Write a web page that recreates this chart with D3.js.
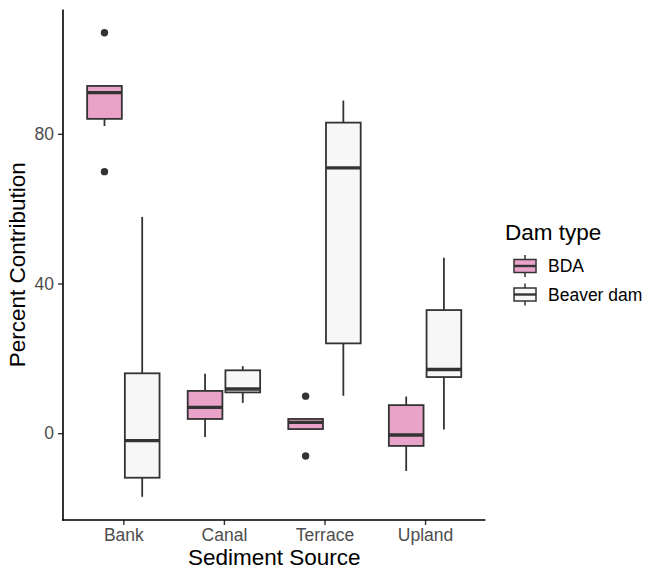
<!DOCTYPE html>
<html>
<head>
<meta charset="utf-8">
<script src="https://cdn.jsdelivr.net/npm/d3@7/dist/d3.min.js"></script>
<style>
  body { margin: 0; background: #fff; }
  svg { display: block; font-family: "Liberation Sans", Arial, sans-serif; }
</style>
</head>
<body>
<svg id="chart" width="648" height="570"></svg>
<script>
// ---- Data ----
const categories = ["Bank", "Canal", "Terrace", "Upland"];
const damTypes = ["BDA", "Beaver dam"];
const fills = ["#E9A3C9", "#F7F7F7"];
const yTicks = [0, 40, 80];

// [lower whisker, Q1, median, Q3, upper whisker] per category
const bdaStats = [
  [82.1, 84.0, 91.0, 92.8, 93.0],
  [-1.0, 3.8, 6.9, 11.3, 15.9],
  [1.0, 1.1, 2.9, 3.8, 4.0],
  [-10.1, -3.4, -0.5, 7.5, 9.8]
];
const beaverStats = [
  [-17.0, -11.9, -2.0, 16.0, 57.8],
  [8.1, 10.9, 11.8, 16.8, 17.9],
  [10.0, 24.0, 70.9, 83.0, 88.9],
  [1.0, 15.0, 17.0, 32.9, 46.9]
];
const bdaOutliers = [[107.0, 69.9], [], [9.9, -6.1], []];
const beaverOutliers = [[], [], [], []];

// ---- Layout ----
const svg = d3.select("#chart");
const panel = { left: 63, right: 485.4, top: 9.6, bottom: 520 };
const ink = "#333333";
const lw = 1.8;

const x = d3.scalePoint().domain(categories)
  .range([panel.left, panel.right]).padding(0.6);
const step = x.step();
const dodge = d3.scaleBand().domain(damTypes)
  .range([-0.375 * step, 0.375 * step]);
const boxW = dodge.bandwidth() * 0.92;

const y = d3.scaleLinear().domain([-23.2, 113.2])
  .range([panel.bottom, panel.top]);

// ---- Boxes ----
const series = [
  { type: damTypes[0], fill: fills[0], stats: bdaStats, out: bdaOutliers },
  { type: damTypes[1], fill: fills[1], stats: beaverStats, out: beaverOutliers }
];

const g = svg.append("g");
series.forEach(s => {
  categories.forEach((c, i) => {
    const [lo, q1, med, q3, hi] = s.stats[i];
    const cx = x(c) + dodge(s.type) + dodge.bandwidth() / 2;
    const bg = g.append("g");
    bg.append("line").attr("x1", cx).attr("x2", cx)
      .attr("y1", y(hi)).attr("y2", y(q3))
      .attr("stroke", ink).attr("stroke-width", lw);
    bg.append("line").attr("x1", cx).attr("x2", cx)
      .attr("y1", y(q1)).attr("y2", y(lo))
      .attr("stroke", ink).attr("stroke-width", lw);
    bg.append("rect").attr("x", cx - boxW / 2).attr("width", boxW)
      .attr("y", y(q3)).attr("height", y(q1) - y(q3))
      .attr("fill", s.fill).attr("stroke", ink).attr("stroke-width", lw);
    bg.append("line").attr("x1", cx - boxW / 2).attr("x2", cx + boxW / 2)
      .attr("y1", y(med)).attr("y2", y(med))
      .attr("stroke", ink).attr("stroke-width", 3.4);
    s.out[i].forEach(v => {
      bg.append("circle").attr("cx", cx).attr("cy", y(v)).attr("r", 3.7)
        .attr("fill", ink);
    });
  });
});

// ---- Axes ----
const xAxis = d3.axisBottom(x).tickSize(5).tickPadding(4);
const gx = svg.append("g").attr("transform", `translate(0,${panel.bottom})`).call(xAxis);
gx.select(".domain").remove();
gx.selectAll(".tick line").attr("stroke", ink).attr("stroke-width", 1.4);
gx.selectAll(".tick text").attr("fill", "#4D4D4D")
  .style("font-size", "17.5px").attr("dy", "0.7em");

const yAxis = d3.axisLeft(y).tickValues(yTicks).tickSize(5).tickPadding(4);
const gy = svg.append("g").attr("transform", `translate(${panel.left},0)`).call(yAxis);
gy.select(".domain").remove();
gy.selectAll(".tick line").attr("stroke", ink).attr("stroke-width", 1.4);
gy.selectAll(".tick text").attr("fill", "#4D4D4D").style("font-size", "17.5px");

svg.append("line").attr("x1", panel.left).attr("x2", panel.left)
  .attr("y1", panel.top).attr("y2", panel.bottom + 0.75)
  .attr("stroke", "#000").attr("stroke-width", 1.6);
svg.append("line").attr("x1", panel.left - 0.8).attr("x2", panel.right)
  .attr("y1", panel.bottom).attr("y2", panel.bottom)
  .attr("stroke", "#000").attr("stroke-width", 1.6);

svg.append("text").attr("x", (panel.left + panel.right) / 2).attr("y", 565)
  .attr("text-anchor", "middle").style("font-size", "22.5px").attr("fill", "#000")
  .text("Sediment Source");
svg.append("text")
  .attr("transform", `translate(25,${(panel.top + panel.bottom) / 2}) rotate(-90)`)
  .attr("text-anchor", "middle").style("font-size", "22.5px").attr("fill", "#000")
  .text("Percent Contribution");

// ---- Legend ----
const lg = svg.append("g");
lg.append("text").attr("x", 505).attr("y", 240).style("font-size", "22.5px")
  .attr("fill", "#000").text("Dam type");
const keyCy = [266, 294.5];
damTypes.forEach((t, i) => {
  const kx = 525, ky = keyCy[i];
  lg.append("line").attr("x1", kx).attr("x2", kx)
    .attr("y1", ky - 11).attr("y2", ky + 11)
    .attr("stroke", ink).attr("stroke-width", 1.5);
  lg.append("rect").attr("x", kx - 11).attr("y", ky - 6.5)
    .attr("width", 22).attr("height", 13)
    .attr("fill", fills[i]).attr("stroke", ink).attr("stroke-width", 1.5);
  lg.append("line").attr("x1", kx - 11).attr("x2", kx + 11)
    .attr("y1", ky).attr("y2", ky)
    .attr("stroke", ink).attr("stroke-width", 2.4);
  lg.append("text").attr("x", 548).attr("y", ky + 6.3)
    .style("font-size", "17.5px").attr("fill", "#000").text(t);
});
</script>
</body>
</html>
